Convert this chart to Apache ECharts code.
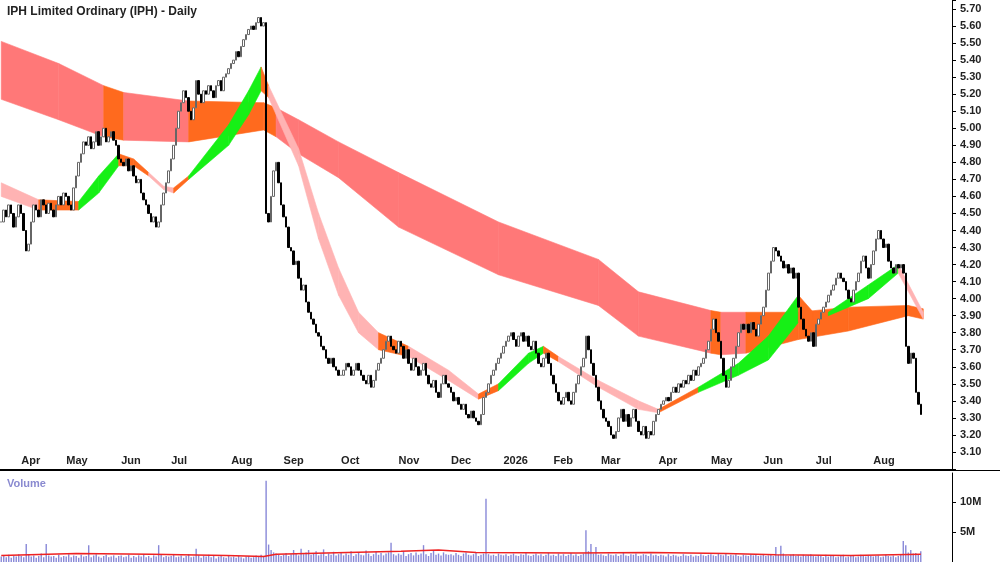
<!DOCTYPE html>
<html><head><meta charset="utf-8">
<script src="https://cdn.jsdelivr.net/npm/echarts@6/dist/echarts.min.js"></script>
<style>html,body{margin:0;padding:0;background:#fff}#c{width:1000px;height:562px}</style>
</head><body><div id="c"></div>
<script>
const monthLabels = ['', 'Apr','May','Jun','Jul','Aug','Sep','Oct','Nov','Dec','2026','Feb','Mar','Apr','May','Jun','Jul','Aug'];
const closesByMonth = [
 [4.45,4.52,4.48,4.55,4.50,4.42,4.48,4.55],
 [4.50,4.40,4.28,4.32,4.45,4.55,4.52,4.48,4.58,4.55,4.50,4.56,4.52,4.48,4.55,4.60,4.55,4.62],
 [4.60,4.55,4.52,4.65,4.72,4.80,4.85,4.92,4.90,4.95,4.88,4.92,4.98,4.90,4.95,5.00,4.92,4.95,4.98,4.93,4.90,4.82],
 [4.80,4.78,4.82,4.75,4.78,4.72,4.68,4.70,4.62,4.58,4.55,4.50,4.45,4.48,4.42,4.45,4.55,4.62,4.68,4.75],
 [4.82,4.90,5.00,5.10,5.15,5.22,5.18,5.10,5.05,5.12,5.28,5.20,5.15,5.22,5.20,5.25,5.22,5.18,5.25,5.28,5.22,5.30,5.32,5.35],
 [5.38,5.40,5.45,5.42,5.48,5.52,5.55,5.58,5.60,5.58,5.62,5.65,5.60,5.62,4.50,4.45,4.60,4.75,4.80,4.68,4.55],
 [4.48,4.42,4.30,4.28,4.20,4.22,4.12,4.05,4.08,3.98,3.92,3.88,3.85,3.80,3.78,3.72,3.70,3.65,3.62,3.65,3.60,3.58,3.55],
 [3.55,3.58,3.62,3.60,3.55,3.58,3.62,3.58,3.55,3.52,3.50,3.55,3.48,3.52,3.58,3.62,3.65,3.70,3.75,3.78,3.72,3.70,3.68],
 [3.75,3.72,3.65,3.70,3.62,3.58,3.65,3.60,3.55,3.58,3.62,3.55,3.50,3.48,3.52,3.45,3.42,3.50,3.55,3.50,3.48],
 [3.45,3.40,3.42,3.38,3.35,3.38,3.32,3.30,3.34,3.30,3.28,3.26,3.32,3.42,3.45,3.50,3.55,3.58,3.62,3.65,3.68],
 [3.72,3.75,3.78,3.80,3.76,3.72,3.78,3.80,3.75,3.78,3.72,3.70,3.75,3.68,3.62,3.60,3.65,3.68,3.62,3.55],
 [3.50,3.45,3.40,3.38,3.42,3.45,3.40,3.38,3.45,3.50,3.55,3.60,3.65,3.78,3.70,3.62,3.55,3.48,3.40],
 [3.35,3.30,3.28,3.25,3.20,3.18,3.22,3.30,3.35,3.28,3.32,3.25,3.30,3.35,3.28,3.22,3.20,3.25,3.18,3.22,3.20,3.28,3.32],
 [3.35,3.38,3.40,3.42,3.40,3.45,3.48,3.45,3.50,3.48,3.52,3.50,3.55,3.52,3.58,3.55,3.60,3.62,3.65,3.70,3.75],
 [3.82,3.88,3.80,3.75,3.65,3.55,3.48,3.52,3.60,3.65,3.72,3.80,3.85,3.82,3.85,3.80,3.86,3.82,3.78,3.85,3.90],
 [3.95,4.05,4.15,4.22,4.30,4.28,4.25,4.22,4.18,4.20,4.15,4.18,4.12,4.15,3.95,3.88,3.82,3.78,3.75,3.80,3.72],
 [3.85,3.88,3.92,3.95,3.98,4.02,4.05,4.08,4.12,4.15,4.12,4.10,4.05,4.00,3.98,4.05,4.10,4.15,4.22,4.25,4.18,4.12,4.20],
 [4.28,4.35,4.40,4.35,4.30,4.32,4.22,4.18,4.15,4.20,4.18,4.20,4.15,3.72,3.62,3.68,3.65,3.45,3.38,3.32]
];
const volumesByMonth = [
 [0.9,1.1,0.8,1.2,0.7,1.0,0.9,1.3],
 [1.0,0.8,3.0,1.2,0.9,1.1,0.7,1.0,1.4,0.8,3.0,1.1,0.9,1.0,0.7,1.2,0.8,1.0],
 [0.9,1.3,0.8,1.1,1.0,0.7,1.2,0.9,1.0,2.8,0.8,1.1,1.3,0.9,0.7,1.0,1.2,0.8,0.9,1.1,0.7,1.0],
 [1.1,0.8,0.9,1.2,0.7,1.0,0.8,1.1,0.9,1.3,0.8,1.0,0.7,1.1,0.9,2.8,1.2,0.8,1.0,0.9],
 [1.0,1.2,0.8,0.9,1.1,0.7,1.0,1.3,0.8,0.9,2.2,1.1,0.7,1.0,0.9,1.2,0.8,1.0,0.6,0.9,1.1,0.8,0.7,1.0],
 [0.8,0.9,0.7,1.0,0.8,0.6,0.9,1.0,0.7,0.8,1.1,0.9,1.2,1.0,13.5,2.9,2.0,1.6,1.4,1.2,1.0],
 [1.2,1.5,1.0,1.3,2.0,1.4,1.1,2.2,1.3,1.6,2.0,1.2,1.4,1.8,1.1,1.3,2.1,1.0,1.4,1.2,1.7,1.1,1.3],
 [1.5,1.1,1.4,1.2,1.8,1.0,1.3,1.6,1.2,1.1,1.9,1.4,1.0,1.3,1.7,1.2,1.5,1.1,1.4,1.6,3.2,1.3,1.1],
 [1.4,1.2,1.8,1.0,1.3,1.5,1.1,1.6,1.2,1.4,2.8,1.3,1.0,1.5,1.9,1.2,1.4,1.1,1.6,1.3,1.2],
 [1.3,1.1,1.5,1.2,1.0,1.4,1.6,1.2,1.1,1.3,1.5,1.0,1.2,1.4,10.5,1.3,1.1,1.2,1.0,1.4,1.2],
 [1.1,1.3,1.0,1.2,1.4,1.1,1.0,1.3,1.2,1.5,1.1,1.0,1.2,1.4,1.1,1.3,1.0,1.2,1.5,1.1],
 [1.2,1.0,1.4,1.1,1.3,1.0,1.2,1.5,1.1,1.3,1.0,1.2,1.4,5.3,1.8,3.0,1.4,2.5,1.2],
 [1.3,1.1,1.0,1.4,1.2,1.1,1.3,1.0,1.2,1.5,1.1,1.0,1.3,1.2,1.4,1.0,1.1,1.3,1.2,1.0,1.4,1.1,1.2],
 [1.0,1.2,1.1,0.9,1.3,1.0,1.2,1.1,0.9,1.0,1.3,1.1,1.0,1.2,0.9,1.1,1.0,1.3,1.1,1.0,1.2],
 [1.3,1.1,1.0,1.4,1.2,1.1,1.5,1.0,1.2,1.1,1.3,1.0,0.9,1.2,1.1,1.0,1.3,1.1,1.2,1.0,1.1],
 [1.2,1.0,1.1,1.3,1.0,2.5,1.2,2.7,1.4,1.1,1.0,1.2,1.3,1.0,1.1,0.9,1.2,1.0,1.1,1.3,1.0],
 [0.9,1.1,1.0,0.8,1.2,0.9,1.0,1.1,0.8,0.9,1.0,1.2,0.8,0.9,1.1,1.0,0.8,0.9,1.2,1.0,0.9,1.1,1.0],
 [0.9,1.0,1.1,0.8,0.9,1.2,1.0,0.9,1.1,0.8,1.0,1.2,3.5,2.8,1.6,2.0,1.4,1.5,1.2,1.8]
];
const volAvgKeys = [[0,1.1],[30,1.4],[60,1.3],[90,1.1],[105,0.9],[110,1.3],[130,1.5],[160,1.8],[175,2.0],[190,1.6],[230,1.5],[260,1.6],[290,1.4],[310,1.2],[340,1.1],[368,1.3]];
const longBand = [[0,5.51,5.17,'R'],[23,5.38,5.05,'R'],[41,5.25,4.95,'O'],[49,5.21,4.93,'R'],[75,5.16,4.92,'O'],[105,5.15,4.99,'O'],[110,5.12,4.95,'R'],[119,5.05,4.85,'R'],[135,4.92,4.71,'R'],[159,4.74,4.42,'R'],[199,4.45,4.14,'R'],[239,4.23,3.96,'R'],[255,4.04,3.78,'R'],[284,3.93,3.68,'O'],[288,3.92,3.67,'R'],[298,3.92,3.68,'O'],[319,3.92,3.76,'O'],[339,3.95,3.81,'O'],[363,3.96,3.90,'O'],[369,3.94,3.88,'O']];
const shortBand = [[0,4.68,4.60,'P'],[15,4.58,4.52,'O'],[31,4.57,4.52,'G'],[39,4.72,4.62,'G'],[47,4.85,4.78,'O'],[53,4.82,4.78,'O'],[59,4.74,4.72,'P'],[65,4.66,4.64,'P'],[69,4.65,4.62,'O'],[75,4.72,4.70,'G'],[91,5.02,4.90,'G'],[99,5.22,5.08,'G'],[104,5.36,5.22,'O'],[107,5.25,5.18,'P'],[119,4.88,4.78,'P'],[127,4.50,4.35,'P'],[135,4.18,4.02,'P'],[143,3.92,3.80,'P'],[151,3.80,3.70,'O'],[163,3.72,3.66,'P'],[179,3.58,3.52,'P'],[191,3.44,3.41,'O'],[199,3.50,3.46,'G'],[211,3.68,3.62,'G'],[217,3.72,3.68,'O'],[223,3.66,3.63,'P'],[239,3.52,3.48,'P'],[255,3.40,3.35,'P'],[263,3.35,3.33,'O'],[279,3.48,3.45,'G'],[295,3.62,3.55,'G'],[307,3.78,3.64,'G'],[319,4.02,3.86,'O'],[325,3.92,3.88,'O'],[331,3.92,3.90,'G'],[347,4.08,4.00,'G'],[359,4.20,4.15,'P'],[369,3.92,3.88,'P']];
const bandColors = {R:'#ff7878', O:'#ff6a1e', P:'#ffb3b3', G:'#16f016'};
const extraDays = 12;

const closes = [].concat(...closesByMonth);
const volumes = [].concat(...volumesByMonth);
const cats = [], monthStart = {};
closesByMonth.forEach((m,mi)=>{ m.forEach((_,di)=>{ const idx=cats.length; if(di===0 && mi>0) monthStart[idx]=monthLabels[mi]; cats.push(idx+''); }); });
for(let k=0;k<extraDays;k++) cats.push((cats.length)+'');
const candle = closes.map((c,i)=>{ const o = i===0?c:closes[i-1]; return [o,c,Math.min(o,c),Math.max(o,c)]; });
const volAvg = cats.map(()=>null); volAvgKeys.forEach(([i,v])=>volAvg[i]=v);

function bandSeries(keys, z){
  return { type:'custom', xAxisIndex:0, yAxisIndex:0, z, silent:true,
    data: keys.slice(0,-1).map((k,i)=>[k[0],k[1],k[2],keys[i+1][0],keys[i+1][1],keys[i+1][2],i]),
    encode:{x:[0,3], y:[1,2,4,5]},
    renderItem:(p,api)=>{
      const i=api.value(6), k=keys[i];
      const a=api.coord([api.value(0),api.value(1)]), b=api.coord([api.value(3),api.value(4)]),
            c=api.coord([api.value(3),api.value(5)]), d=api.coord([api.value(0),api.value(2)]);
      return {type:'polygon', shape:{points:[a,b,c,d]}, style:{fill:bandColors[k[3]], stroke:bandColors[k[3]], lineWidth:0.6}};
    }};
}

const chart = echarts.init(document.getElementById('c'));
chart.setOption({
  animation:false,
  title:[{text:'IPH Limited Ordinary (IPH) - Daily', left:2, top:1, textStyle:{fontSize:12, fontWeight:'bold', color:'#222', fontFamily:'Liberation Sans'}},
         {text:'Volume', left:2, top:473, textStyle:{fontSize:11, fontWeight:'bold', color:'#8a8ad0', fontFamily:'Liberation Sans'}}],
  grid:[{left:0, top:0.5, width:952, height:468.5},{left:0, top:473, width:952, height:89}],
  xAxis:[
    {type:'category', gridIndex:0, data:cats, boundaryGap:true,
     axisLine:{show:true, lineStyle:{color:'#000'}},
     axisTick:{inside:true, length:14, interval:(i)=>monthStart[i]!==undefined, lineStyle:{color:'#000'}},
     axisLabel:{inside:true, interval:(i)=>monthStart[i]!==undefined, formatter:(v)=>monthStart[+v]||'', align:'left', margin:3, fontSize:11, fontWeight:'bold', color:'#222', fontFamily:'Liberation Sans'}},
    {type:'category', gridIndex:1, data:cats, boundaryGap:true, axisLine:{show:false}, axisTick:{show:false}, axisLabel:{show:false}}
  ],
  yAxis:[
    {type:'value', gridIndex:0, position:'right', min:3.0, max:5.75, interval:0.1, splitLine:{show:false},
     axisLine:{show:true, lineStyle:{color:'#000'}}, axisTick:{show:true, length:4},
     axisLabel:{formatter:(v)=> (v<3.05||v>5.72)?'':v.toFixed(2), fontSize:11, fontWeight:'bold', color:'#222', margin:8, fontFamily:'Liberation Sans'}},
    {type:'value', gridIndex:1, position:'right', min:0, max:14.8, interval:5, splitLine:{show:false},
     axisLine:{show:true, lineStyle:{color:'#000'}}, axisTick:{show:true, length:4},
     axisLabel:{showMaxLabel:false, formatter:(v)=> (v===0||v>14)?'':v+'M', fontSize:11, fontWeight:'bold', color:'#222', margin:8, fontFamily:'Liberation Sans'}}
  ],
  series:[
    bandSeries(longBand, 1),
    bandSeries(shortBand, 2),
    {type:'candlestick', xAxisIndex:0, yAxisIndex:0, z:5, data:candle, barWidth:2,
     itemStyle:{color:'#ffffff', color0:'#000000', borderColor:'#666666', borderColor0:'#000000', borderWidth:1}},
    {type:'bar', xAxisIndex:1, yAxisIndex:1, data:volumes, barWidth:1.4, itemStyle:{color:'#8888d8'}},
    {type:'line', xAxisIndex:1, yAxisIndex:1, data:volAvg, connectNulls:true, symbol:'none', lineStyle:{color:'#ee2222', width:1.5}}
  ],
  graphic:[{type:'line', shape:{x1:0,y1:470.5,x2:1000,y2:470.5}, style:{stroke:'#000', lineWidth:1}}]
});
</script></body></html>
